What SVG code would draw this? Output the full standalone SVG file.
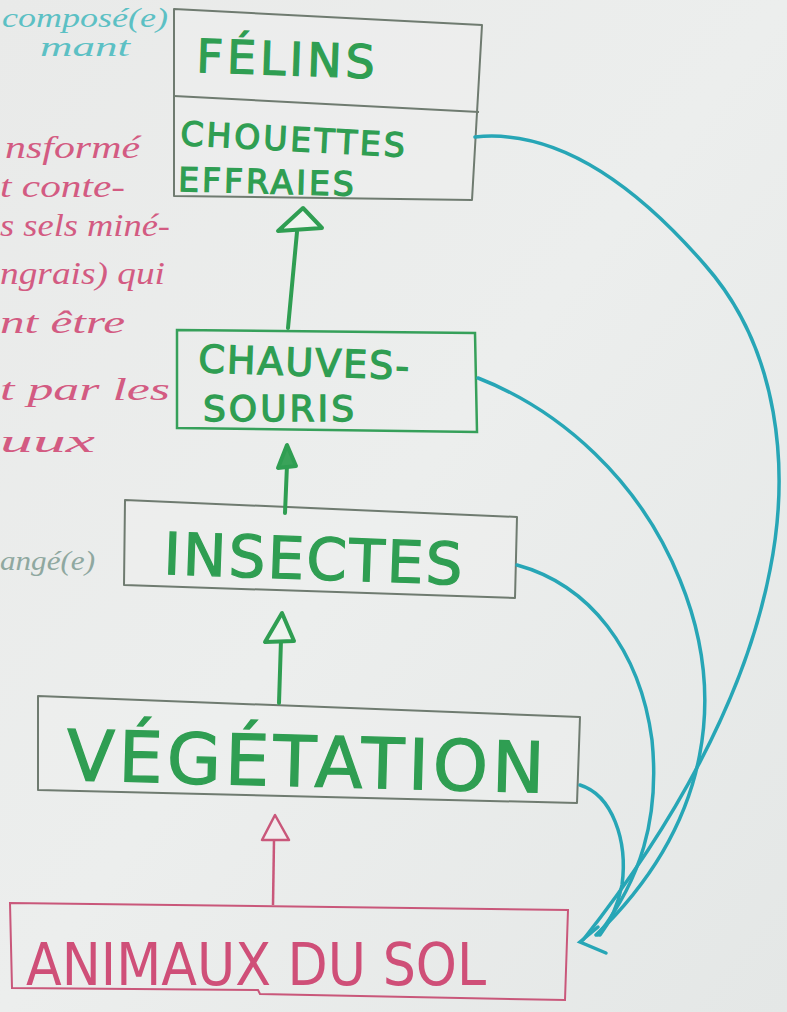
<svg xmlns="http://www.w3.org/2000/svg" width="787" height="1012" viewBox="0 0 787 1012">
  <defs>
    <linearGradient id="bg" x1="0" y1="0" x2="1" y2="1">
      <stop offset="0" stop-color="#e9eae9"/>
      <stop offset="0.5" stop-color="#eceeed"/>
      <stop offset="1" stop-color="#e4e7e6"/>
    </linearGradient>
    <style>
      .box { fill: #f1f2f1; fill-opacity: 0.35; stroke: #6f7b70; stroke-width: 2; stroke-linejoin: round; }
      .boxg { fill: none; stroke: #36a05a; stroke-width: 2.5; }
      .boxp { fill: none; stroke: #c9577a; stroke-width: 2; }
      .g { fill: #2f9e52; stroke: #2f9e52; stroke-width: 1.3; font-family: "DejaVu Sans", "Liberation Sans", sans-serif; }
      .p { fill: #cf4f78; font-family: "DejaVu Sans", "Liberation Sans", sans-serif; }
      .note { fill: #d35b82; font-family: "Liberation Serif", "DejaVu Serif", serif; font-style: italic; font-size: 32px; }
      .noteb { fill: #5cc0c4; font-family: "Liberation Serif", "DejaVu Serif", serif; font-style: italic; font-size: 28px; }
      .link { fill: none; stroke: #27a6b6; stroke-width: 3.5; stroke-linecap: round; }
      .ag { fill: none; stroke: #2f9e52; stroke-width: 4; stroke-linecap: round; stroke-linejoin: round; }
      .ap { fill: none; stroke: #c9577a; stroke-width: 2.5; stroke-linejoin: round; }
    </style>
  </defs>
  <rect width="787" height="1012" fill="url(#bg)"/>

  <g id="margin-notes">
    <text class="noteb" x="2" y="27" textLength="166" lengthAdjust="spacingAndGlyphs">composé(e)</text>
    <text class="noteb" x="40" y="56" textLength="90" lengthAdjust="spacingAndGlyphs">mant</text>
    <text class="note" x="5" y="158" textLength="135" lengthAdjust="spacingAndGlyphs">nsformé</text>
    <text class="note" x="0" y="197" textLength="125" lengthAdjust="spacingAndGlyphs">t conte-</text>
    <text class="note" x="0" y="236" textLength="170" lengthAdjust="spacingAndGlyphs">s sels miné-</text>
    <text class="note" x="0" y="284" textLength="165" lengthAdjust="spacingAndGlyphs">ngrais) qui</text>
    <text class="note" x="0" y="333" textLength="125" lengthAdjust="spacingAndGlyphs">nt être</text>
    <text class="note" x="0" y="400" textLength="170" lengthAdjust="spacingAndGlyphs">t par les</text>
    <text class="note" x="0" y="452" textLength="95" lengthAdjust="spacingAndGlyphs">uux</text>
    <text class="noteb" x="0" y="570" textLength="95" lengthAdjust="spacingAndGlyphs" style="fill:#8fa8a0">angé(e)</text>
  </g>

  <g id="felins-chouettes">
    <path class="box" d="M174,9 L482,25 L472,200 L174,196 Z"/>
    <path class="box" d="M174,96 L479,112" fill="none"/>
    <text class="g" x="196" y="72" font-size="46" letter-spacing="4" transform="rotate(2 196 72)">FÉLINS</text>
    <text class="g" x="180" y="145" font-size="33" letter-spacing="3" transform="rotate(3 180 145)">CHOUETTES</text>
    <text class="g" x="178" y="191" font-size="33" letter-spacing="3" transform="rotate(1.5 178 191)">EFFRAIES</text>
  </g>

  <g id="chauves-souris">
    <path class="boxg" d="M177,330 L475,333 L477,432 L177,428 Z"/>
    <text class="g" x="198" y="372" font-size="38" letter-spacing="2" transform="rotate(2 198 372)">CHAUVES-</text>
    <text class="g" x="203" y="421" font-size="36" letter-spacing="3">SOURIS</text>
  </g>

  <g id="insectes">
    <path class="box" d="M125,500 L517,517 L515,598 L124,585 Z"/>
    <text class="g" x="163" y="574" font-size="58" letter-spacing="6" textLength="305" transform="rotate(2 163 574)">INSECTES</text>
  </g>

  <g id="vegetation">
    <path class="box" d="M38,696 L580,717 L577,803 L38,790 Z"/>
    <text class="g" x="66" y="780" font-size="70" letter-spacing="6" textLength="484" transform="rotate(1.5 66 780)">VÉGÉTATION</text>
  </g>

  <g id="animaux-du-sol">
    <path class="boxp" d="M10,903 L568,910 L565,1000 L260,994 L258,990 L12,988 Z"/>
    <text class="p" x="26" y="985" font-size="58" textLength="460" lengthAdjust="spacingAndGlyphs">ANIMAUX DU SOL</text>
  </g>

  <g id="connectors">
    <path class="ag" d="M288,328 L297,232"/>
    <path class="ag" d="M303,208 L278,231 L322,228 Z" style="fill:#eef4ef"/>
    <path class="ag" d="M285,513 L287,465"/>
    <path class="ag" d="M287,445 L278,468 L296,466 Z" style="fill:#3aa35a"/>
    <path class="ag" d="M279,703 L281,640"/>
    <path class="ag" d="M282,613 L265,642 L294,641 Z" style="fill:#eef4ef"/>
    <path class="ap" d="M273,905 L274,840"/>
    <path class="ap" d="M275,815 L262,840 L289,840 Z" style="fill:#f2ecee"/>
    <path class="link" d="M475,137 C560,128 640,190 705,265 C780,350 790,470 770,570 C745,700 670,830 583,940"/>
    <path class="link" d="M478,378 C560,410 640,480 680,580 C725,690 715,820 596,935"/>
    <path class="link" d="M517,565 C590,585 640,650 652,740 C660,820 640,880 598,935"/>
    <path class="link" d="M580,785 C612,795 628,840 622,885 C618,905 610,922 600,935"/>
    <path class="link" d="M598,927 L580,942 L606,953"/>
  </g>
</svg>
